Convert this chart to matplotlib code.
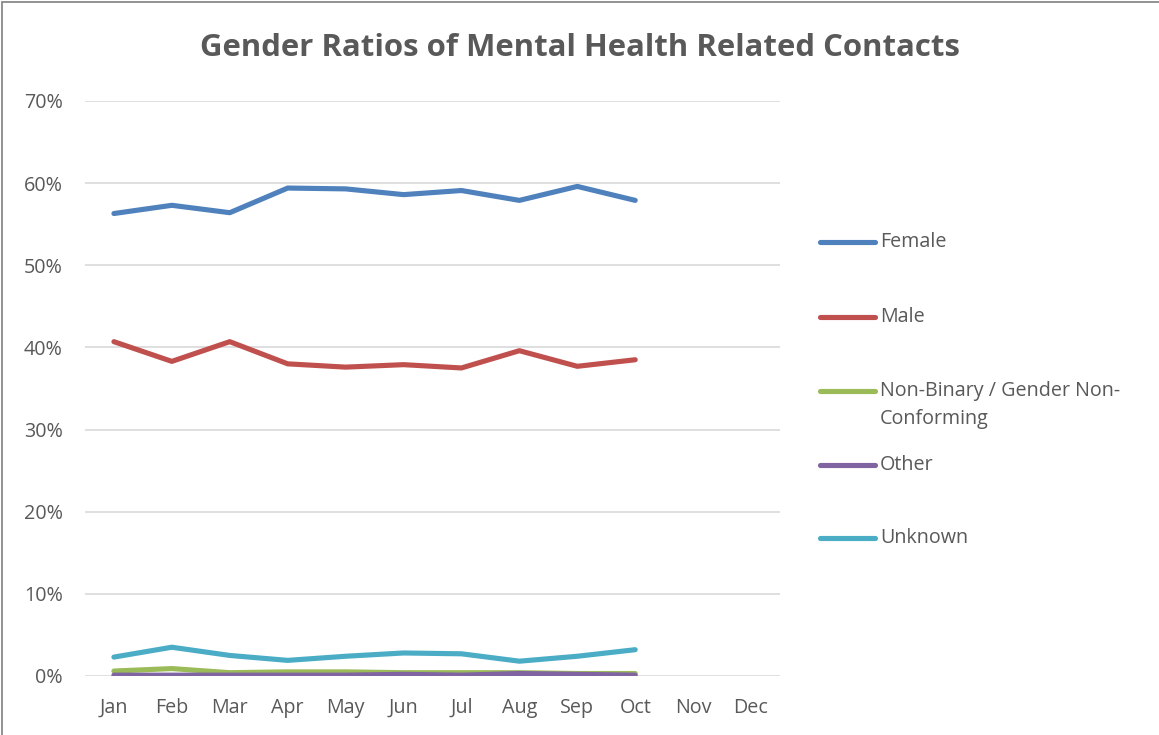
import matplotlib.pyplot as plt
from matplotlib.lines import Line2D
from matplotlib.patches import Rectangle
from matplotlib.ticker import PercentFormatter

months = ['Jan', 'Feb', 'Mar', 'Apr', 'May', 'Jun', 'Jul', 'Aug', 'Sep', 'Oct', 'Nov', 'Dec']

# share of contacts per month (Jan-Oct only, Nov/Dec empty)
female = [56.3, 57.3, 56.4, 59.4, 59.3, 58.6, 59.1, 57.9, 59.6, 57.9]
male = [40.7, 38.3, 40.7, 38.0, 37.6, 37.9, 37.5, 39.6, 37.7, 38.5]
non_binary = [0.6, 0.9, 0.4, 0.5, 0.5, 0.4, 0.4, 0.4, 0.3, 0.3]
other = [0.1, 0.1, 0.1, 0.1, 0.1, 0.2, 0.1, 0.3, 0.2, 0.1]
unknown = [2.3, 3.5, 2.5, 1.9, 2.4, 2.8, 2.7, 1.8, 2.4, 3.2]

series_names = ['Female', 'Male', 'Non-Binary / Gender Non-\nConforming', 'Other', 'Unknown']
series_values = [female, male, non_binary, other, unknown]
colors = ['#4F81BD', '#C0504D', '#9BBB59', '#8064A2', '#4BACC6']

txt = '#595959'
fs = 14.2
plt.rcParams['font.family'] = ['Open Sans', 'DejaVu Sans']

fig = plt.figure(figsize=(11.59, 7.35), dpi=100)
ax = fig.add_axes([0.0733, 0.0803, 0.5997, 0.7823])

for name, vals, c in zip(series_names, series_values, colors):
    ax.plot(range(len(vals)), [v / 100 for v in vals], color=c, lw=3.7,
            solid_capstyle='round', solid_joinstyle='round', label=name)

ax.set_xlim(-0.5, len(months) - 0.5)
ax.set_ylim(0, 0.7)
ax.set_xticks(range(len(months)))
ax.set_xticklabels(months)
ax.set_yticks([i / 10 for i in range(8)])
ax.yaxis.set_major_formatter(PercentFormatter(1.0, decimals=0))
ax.grid(axis='y', color='#D9D9D9', lw=1.2)
ax.set_axisbelow(True)
for s in ax.spines.values():
    s.set_visible(False)
ax.tick_params(length=0, labelsize=fs, colors=txt)
ax.tick_params(axis='x', pad=16)
ax.tick_params(axis='y', pad=16)

fig.text(0.5, 0.935, 'Gender Ratios of Mental Health Related Contacts',
         ha='center', va='center', fontsize=22.4, fontweight='bold', color=txt)

# legend drawn by hand so the wrapped label lines up like the original
leg_y = [242, 317, 391, 465, 538]
W, H = 1159, 735
for name, c, y in zip(series_names, colors, leg_y):
    yf = 1 - y / H
    fig.add_artist(Line2D([820 / W, 875 / W], [yf, yf], color=c, lw=3.7,
                          solid_capstyle='round'))
    if '\n' in name:
        fig.text(880 / W, yf + 10 / H, name, ha='left', va='top',
                 fontsize=fs, color=txt, linespacing=1.55)
    else:
        fig.text(880 / W, yf, name, ha='left', va='center', fontsize=fs, color=txt)

fig.add_artist(Rectangle((0.002, -0.01), 1.1, 1.007, transform=fig.transFigure,
                         fill=False, edgecolor='#7F7F7F', lw=1.2))

fig.savefig('out.png', dpi=100)
